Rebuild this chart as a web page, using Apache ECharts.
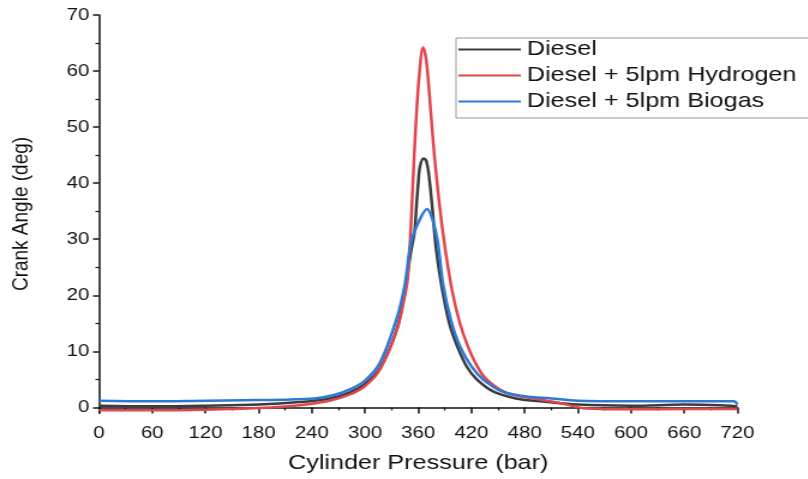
<!DOCTYPE html>
<html>
<head>
<meta charset="utf-8">
<script src="https://cdn.jsdelivr.net/npm/echarts@6/dist/echarts.min.js"></script>
<style>
  html, body { margin: 0; padding: 0; background: #fff; overflow: hidden; }
  /* 原图在水平方向被拉伸过，这里整体 scaleX 还原 */
  #main { width: 673px; height: 479px; transform: scaleX(1.2); transform-origin: 0 0; }
</style>
</head>
<body>
<div id="main"></div>
<script>
// 数据
var dieselX = [0, 60, 120, 180, 226, 260, 283, 300, 317, 336, 345, 352, 356, 358, 360, 362, 366, 369, 372, 376, 380, 386, 395, 404, 415, 426, 445, 470, 497, 540, 600, 660, 700, 720];
var dieselY = [0.3, 0.2, 0.3, 0.5, 0.95, 1.6, 2.7, 4.2, 7.0, 14, 21, 28, 31.5, 36, 40, 43, 44.4, 44, 41.5, 35.4, 28.5, 22, 15, 10.9, 7.2, 5, 2.8, 1.6, 1.1, 0.5, 0.3, 0.5, 0.4, 0.2];

var hydrogenX = [0, 60, 120, 180, 226, 260, 283, 300, 317, 336, 345, 348, 351, 354, 357, 361, 365.5, 369, 372, 375, 380, 388, 398, 407, 416, 426, 437, 460, 497, 520, 550, 600, 660, 720];
var hydrogenY = [-0.5, -0.5, -0.4, -0.1, 0.4, 1.2, 2.3, 3.8, 6.8, 13.9, 20, 22.8, 30, 40, 49.6, 59, 64.2, 62, 57, 51, 42, 31, 21, 15, 10.9, 7.5, 5, 2.6, 1.4, 0.8, -0.2, -0.35, -0.3, -0.3];

var biogasX = [0, 60, 120, 180, 243, 265, 283, 300, 317, 336, 345, 352, 362, 370, 376, 382, 388, 397, 407, 420, 433, 455, 480, 510, 540, 600, 660, 700, 716, 720];
var biogasY = [1.2, 1.1, 1.2, 1.3, 1.6, 2.2, 3.2, 4.8, 8, 16, 22, 29.5, 33.6, 35.4, 33.6, 29.5, 22, 15.5, 10.9, 7.3, 5, 2.8, 2.0, 1.6, 1.2, 1.1, 1.1, 1.1, 1.1, 0.5];

var xTicks = [0, 60, 120, 180, 240, 300, 360, 420, 480, 540, 600, 660, 720];
var yTicks = [0, 10, 20, 30, 40, 50, 60, 70];
var yMinorTicks = [5, 15, 25, 35, 45, 55, 65];

var seriesNames = ['Diesel', 'Diesel + 5lpm Hydrogen', 'Diesel + 5lpm Biogas'];

function pairs(xs, ys) {
    return xs.map(function (x, i) { return [x, ys[i]]; });
}

var myChart = echarts.init(document.getElementById('main'));
var font = 'Liberation Sans, Arial, sans-serif';
// 图例只画一条线（包围盒 52x20，中间一条 2px 的线）
var lineIcon = 'path://M0,0h0.01v0.01h-0.01z M0,9h52v2h-52z M0,19.99h0.01v0.01h-0.01z';

myChart.setOption({
    animation: false,
    color: ['#3c3c3c', '#e0464c', '#2d7ad6'],
    grid: { left: 82.5, right: 58.5, top: 15, bottom: 64 },
    legend: {
        orient: 'vertical',
        left: 380,
        top: 38,
        padding: [1, 80, 6, 2],
        itemGap: 5,
        itemWidth: 52,
        itemHeight: 20,
        borderColor: '#999',
        borderWidth: 1,
        icon: lineIcon,
        textStyle: { fontFamily: font, fontSize: 21, color: '#111' },
        data: seriesNames
    },
    xAxis: {
        type: 'value',
        min: 0,
        max: 720,
        interval: 60,
        name: 'Cylinder Pressure (bar)',
        nameLocation: 'middle',
        nameGap: 40,
        nameTextStyle: { fontFamily: font, fontSize: 21, color: '#111' },
        axisLine: { lineStyle: { color: '#111', width: 1.5 } },
        axisTick: { length: 6, lineStyle: { color: '#111', width: 1.5 } },
        minorTick: { show: true, splitNumber: 2, length: 3, lineStyle: { color: '#111', width: 1.2 } },
        axisLabel: { fontFamily: font, fontSize: 17, color: '#111', margin: 12,
            customValues: xTicks },
        splitLine: { show: false }
    },
    yAxis: [{
        type: 'value',
        min: -1,
        max: 70,
        name: 'Crank Angle (deg)',
        nameLocation: 'middle',
        nameGap: 55,
        nameTextStyle: { fontFamily: font, fontSize: 19, color: '#111' },
        axisLine: { show: true, lineStyle: { color: '#111', width: 1.5 } },
        axisTick: { show: true, length: 5, customValues: yTicks, lineStyle: { color: '#111', width: 1.5 } },
        axisLabel: { fontFamily: font, fontSize: 17, color: '#111', margin: 8, customValues: yTicks },
        splitLine: { show: false }
    }, {
        type: 'value',
        position: 'left',
        min: -1,
        max: 70,
        axisLine: { show: false },
        axisTick: { show: true, length: 3, customValues: yMinorTicks, lineStyle: { color: '#111', width: 1.2 } },
        axisLabel: { show: false },
        splitLine: { show: false }
    }],
    series: [
        {
            name: seriesNames[0], type: 'line', symbol: 'none',
            smooth: 0.35,
            lineStyle: { width: 2.5 },
            data: pairs(dieselX, dieselY)
        },
        {
            name: seriesNames[1], type: 'line', symbol: 'none',
            smooth: 0.35,
            lineStyle: { width: 2.5 },
            data: pairs(hydrogenX, hydrogenY)
        },
        {
            name: seriesNames[2], type: 'line', symbol: 'none',
            smooth: 0.35,
            lineStyle: { width: 2.5 },
            data: pairs(biogasX, biogasY)
        }
    ]
});
</script>
</body>
</html>
